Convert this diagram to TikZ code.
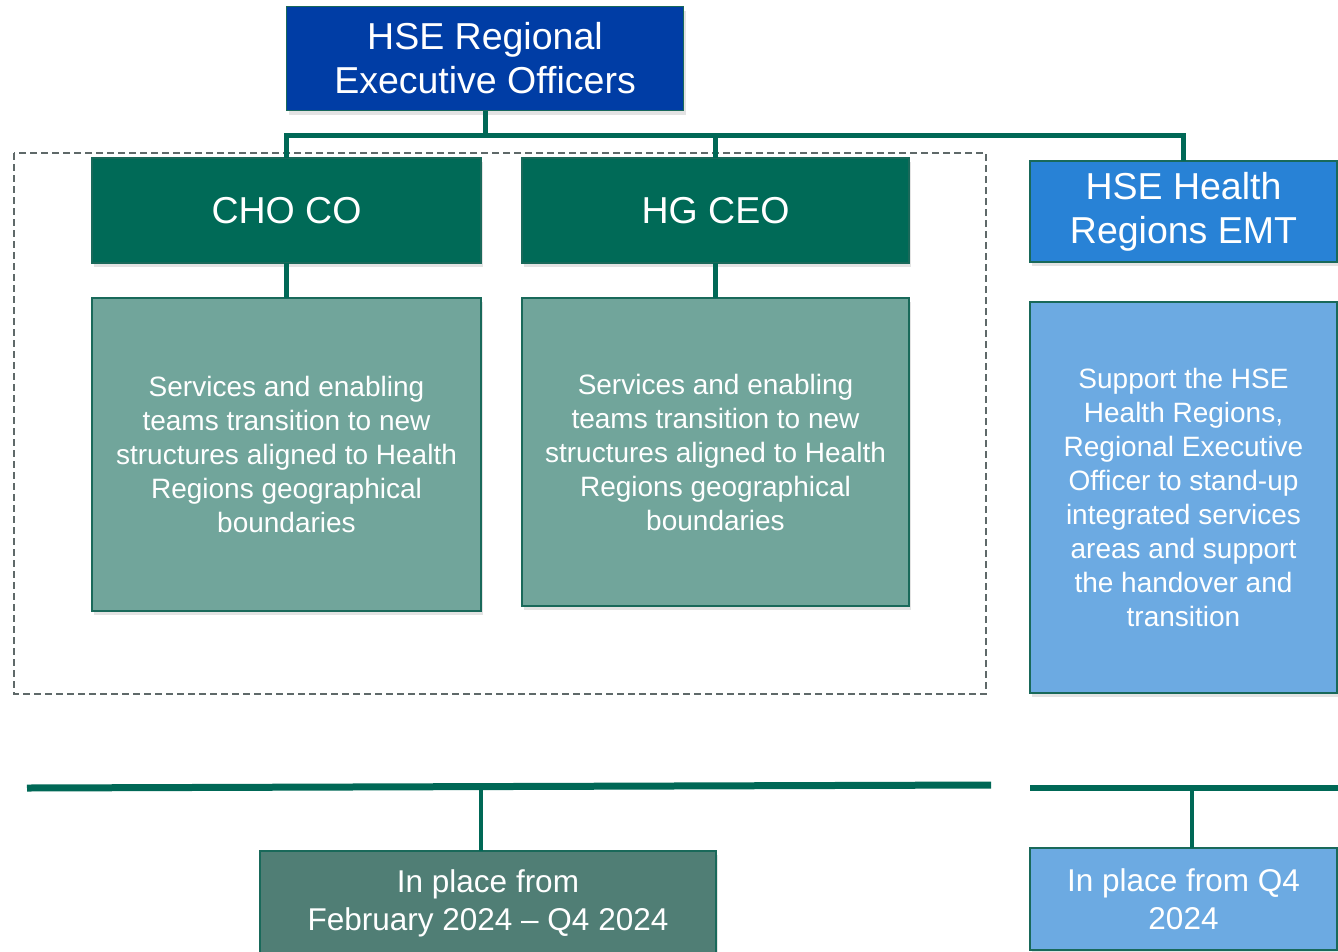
\documentclass[tikz,border=0pt]{standalone}
\usepackage{fontspec}
\setmainfont{Liberation Sans}
\usetikzlibrary{shadows}
\definecolor{hseblue}{RGB}{0,61,165}
\definecolor{linkgreen}{RGB}{0,104,86}
\definecolor{chogreen}{RGB}{0,106,87}
\definecolor{descgreen}{RGB}{113,165,155}
\definecolor{emtblue}{RGB}{40,130,214}
\definecolor{emtlight}{RGB}{108,170,226}
\definecolor{whengreen}{RGB}{80,126,117}
\definecolor{boxline}{RGB}{25,105,90}
\definecolor{dashgray}{RGB}{95,105,105}
\begin{document}
\begin{tikzpicture}[x=1pt,y=-1pt,
    box/.style={draw=boxline,line width=1.2pt,text=white,align=center,inner sep=0pt,outer sep=0pt,
      drop shadow={shadow xshift=2pt,shadow yshift=-4pt,opacity=0.22}},
    head/.style={box,font=\fontsize{37.5}{44}\selectfont},
    desc/.style={box,font=\fontsize{28}{34}\selectfont},
    when/.style={box,font=\fontsize{31.5}{38}\selectfont},
    link/.style={draw=linkgreen,line width=5pt}]
    \useasboundingbox (0,0) rectangle (1338,951);
    \draw[dashgray,line width=1.5pt,dash pattern=on 7pt off 4pt] (14,153) rectangle (986,694);  % group frame

    \node[head,fill=hseblue,minimum width=397pt,minimum height=104pt] (reo) at (485,58.5) {HSE Regional\\Executive Officers};
    \node[head,fill=chogreen,minimum width=389pt,minimum height=105pt] (cho) at (286.5,210.5) {CHO CO};
    \node[head,fill=chogreen,minimum width=387pt,minimum height=105pt] (hg) at (715.5,210.5) {HG CEO};
    \node[head,fill=emtblue,minimum width=307pt,minimum height=101pt] (emt) at (1183.5,211.5) {HSE Health\\Regions EMT};

    \node[desc,fill=descgreen,minimum width=389pt,minimum height=313pt] (chotext) at (286.5,454.5)
        {Services and enabling\\teams transition to new\\structures aligned to Health\\Regions geographical\\boundaries};
    \node[desc,fill=descgreen,minimum width=387pt,minimum height=308pt] (hgtext) at (715.5,452)
        {Services and enabling\\teams transition to new\\structures aligned to Health\\Regions geographical\\boundaries};
    \node[desc,fill=emtlight,minimum width=307pt,minimum height=391pt] (emttext) at (1183.5,497.5)
        {Support the HSE\\Health Regions,\\Regional Executive\\Officer to stand-up\\integrated services\\areas and support\\the handover and\\transition};

    \coordinate (bus) at (485,135);
    \draw[link] (reo.south) -- (reo.south |- bus);
    \draw[link] (cho.north) |- (bus) -| (emt.north);
    \draw[link] (hg.north) -- (hg.north |- bus);
    \draw[link] (cho) -- (chotext);
    \draw[link] (hg) -- (hgtext);

    % timeline
    \node[when,fill=whengreen,minimum width=456pt,minimum height=104pt] (phase1) at (488,903) {In place from\\February 2024 – Q4 2024};
    \node[when,fill=emtlight,minimum width=307pt,minimum height=102pt] (phase2) at (1183.5,899) {In place from Q4\\2024};
    \coordinate (barL) at (27,788);
    \coordinate (barR) at (991,785);
    \coordinate (drop1) at (481,786.5);
    \coordinate (barL2) at (1030,788);
    \coordinate (barR2) at (1338,788);
    \coordinate (drop2) at (1192,788);
    \draw[link,line width=7pt] (barL) -- (barR);
    \draw[link,line width=6pt] (barL2) -- (barR2);
    \draw[link,line width=4pt] (drop1) -- (drop1 |- phase1.north);
    \draw[link,line width=4pt] (drop2) -- (drop2 |- phase2.north);
\end{tikzpicture}
\end{document}
